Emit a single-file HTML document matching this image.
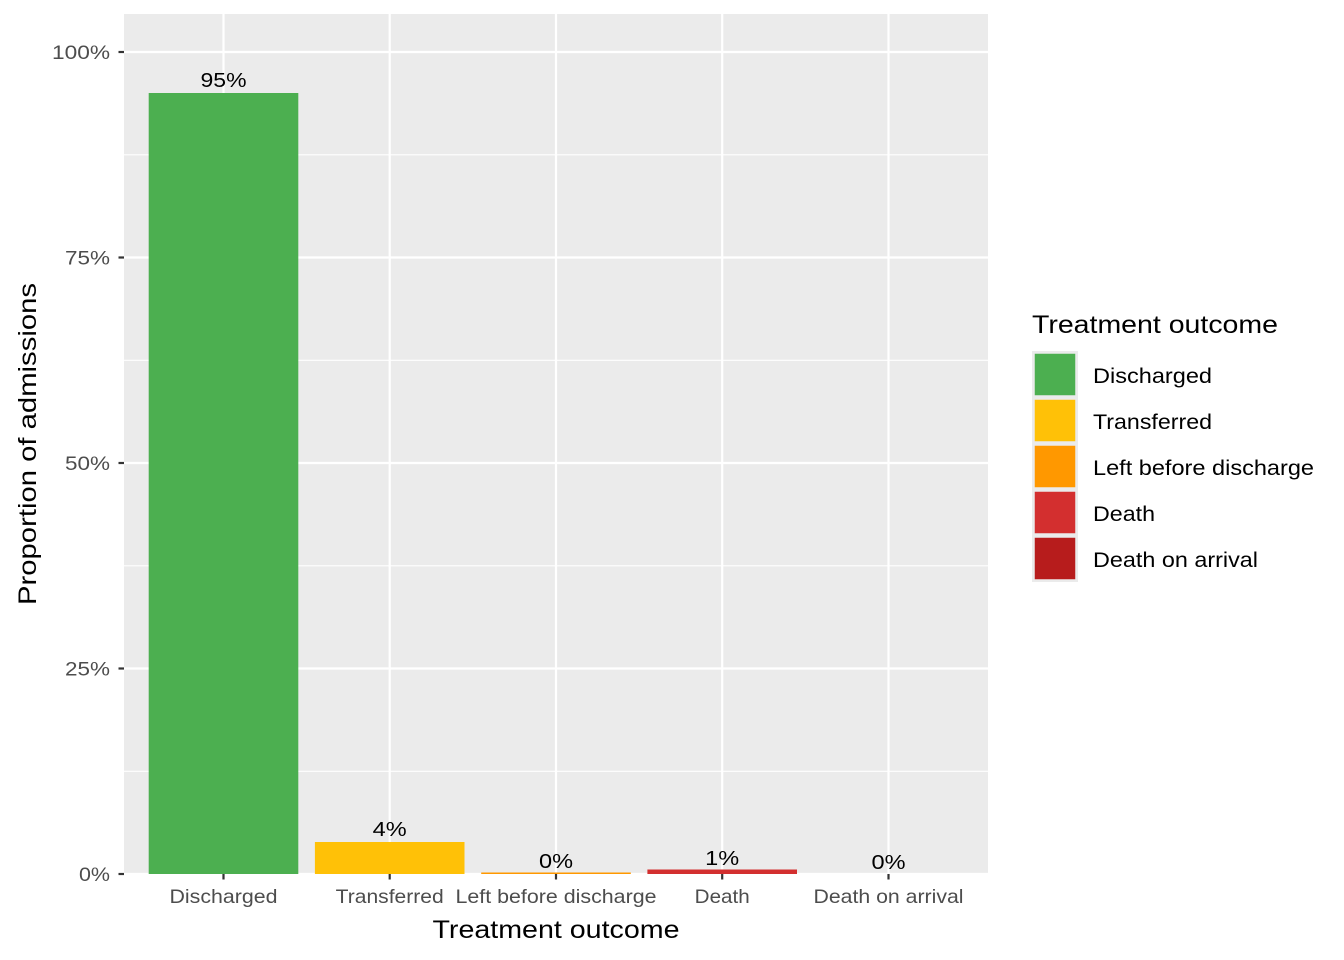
<!DOCTYPE html>
<html><head><meta charset="utf-8"><style>body{margin:0;background:#fff}svg{display:block}text{font-family:"Liberation Sans",Arial,sans-serif}</style></head><body>
<svg width="1344" height="960" viewBox="0 0 1344 960" xmlns="http://www.w3.org/2000/svg">
<rect width="1344" height="960" fill="#fff"/>
<rect x="124" y="14" width="864" height="860" fill="#EBEBEB"/>
<g stroke="#fff" stroke-width="1.1">
<line x1="124" x2="988" y1="771.3" y2="771.3"/><line x1="124" x2="988" y1="565.8" y2="565.8"/><line x1="124" x2="988" y1="360.3" y2="360.3"/><line x1="124" x2="988" y1="154.8" y2="154.8"/>
</g>
<g stroke="#fff" stroke-width="2.2">
<line x1="124" x2="988" y1="874" y2="874"/><line x1="124" x2="988" y1="668.5" y2="668.5"/><line x1="124" x2="988" y1="463" y2="463"/><line x1="124" x2="988" y1="257.5" y2="257.5"/><line x1="124" x2="988" y1="52" y2="52"/>
<line x1="223.5" x2="223.5" y1="14" y2="874"/><line x1="389.7" x2="389.7" y1="14" y2="874"/><line x1="556" x2="556" y1="14" y2="874"/><line x1="722.2" x2="722.2" y1="14" y2="874"/><line x1="888.5" x2="888.5" y1="14" y2="874"/>
</g>
<rect x="148.7" y="93" width="149.6" height="781" fill="#4CAF50"/>
<rect x="314.9" y="842" width="149.6" height="32" fill="#FFC107"/>
<rect x="481.2" y="872.5" width="149.6" height="1.5" fill="#FF9800"/>
<rect x="647.4" y="869.5" width="149.6" height="4.5" fill="#D32F2F"/>
<g font-size="20" text-anchor="middle" fill="#000" lengthAdjust="spacingAndGlyphs">
<text x="223.5" y="87" textLength="46" lengthAdjust="spacingAndGlyphs">95%</text><text x="389.7" y="836" textLength="34" lengthAdjust="spacingAndGlyphs">4%</text><text x="556" y="868" textLength="34" lengthAdjust="spacingAndGlyphs">0%</text><text x="722.2" y="865" textLength="34" lengthAdjust="spacingAndGlyphs">1%</text><text x="888.5" y="869" textLength="34" lengthAdjust="spacingAndGlyphs">0%</text>
</g>
<g stroke="#333" stroke-width="2.2">
<line x1="118.5" x2="124" y1="874" y2="874"/><line x1="118.5" x2="124" y1="668.5" y2="668.5"/><line x1="118.5" x2="124" y1="463" y2="463"/><line x1="118.5" x2="124" y1="257.5" y2="257.5"/><line x1="118.5" x2="124" y1="52" y2="52"/>
<line x1="223.5" x2="223.5" y1="874" y2="879.5"/><line x1="389.7" x2="389.7" y1="874" y2="879.5"/><line x1="556" x2="556" y1="874" y2="879.5"/><line x1="722.2" x2="722.2" y1="874" y2="879.5"/><line x1="888.5" x2="888.5" y1="874" y2="879.5"/>
</g>
<g font-size="19.5" fill="#4D4D4D" text-anchor="end">
<text x="110" y="881" textLength="31" lengthAdjust="spacingAndGlyphs">0%</text><text x="110" y="675.5" textLength="45" lengthAdjust="spacingAndGlyphs">25%</text><text x="110" y="470" textLength="45" lengthAdjust="spacingAndGlyphs">50%</text><text x="110" y="264.5" textLength="45" lengthAdjust="spacingAndGlyphs">75%</text><text x="110" y="59" textLength="58" lengthAdjust="spacingAndGlyphs">100%</text>
</g>
<g font-size="19.5" fill="#4D4D4D" text-anchor="middle">
<text x="223.5" y="903" textLength="108" lengthAdjust="spacingAndGlyphs">Discharged</text><text x="389.7" y="903" textLength="108" lengthAdjust="spacingAndGlyphs">Transferred</text><text x="556" y="903" textLength="201" lengthAdjust="spacingAndGlyphs">Left before discharge</text><text x="722.2" y="903" textLength="55" lengthAdjust="spacingAndGlyphs">Death</text><text x="888.5" y="903" textLength="150" lengthAdjust="spacingAndGlyphs">Death on arrival</text>
</g>
<text x="556" y="938" font-size="25" text-anchor="middle" textLength="247" lengthAdjust="spacingAndGlyphs">Treatment outcome</text>
<text transform="translate(36,444) rotate(-90)" font-size="25" text-anchor="middle" textLength="322" lengthAdjust="spacingAndGlyphs">Proportion of admissions</text>
<text x="1032" y="333" font-size="25" textLength="246" lengthAdjust="spacingAndGlyphs">Treatment outcome</text>
<rect x="1032" y="351" width="46" height="231" fill="#EBEBEB"/>
<g stroke="#EBEBEB" stroke-width="1.5">
<rect x="1034" y="353" width="42" height="43" fill="#4CAF50"/>
<rect x="1034" y="399" width="42" height="43" fill="#FFC107"/>
<rect x="1034" y="445" width="42" height="43" fill="#FF9800"/>
<rect x="1034" y="491" width="42" height="43" fill="#D32F2F"/>
<rect x="1034" y="537" width="42" height="43" fill="#B71C1C"/>
</g>
<g font-size="21">
<text x="1093" y="383" textLength="119" lengthAdjust="spacingAndGlyphs">Discharged</text><text x="1093" y="429" textLength="119" lengthAdjust="spacingAndGlyphs">Transferred</text><text x="1093" y="475" textLength="221" lengthAdjust="spacingAndGlyphs">Left before discharge</text><text x="1093" y="521" textLength="62" lengthAdjust="spacingAndGlyphs">Death</text><text x="1093" y="567" textLength="165" lengthAdjust="spacingAndGlyphs">Death on arrival</text>
</g>
</svg>
</body></html>
